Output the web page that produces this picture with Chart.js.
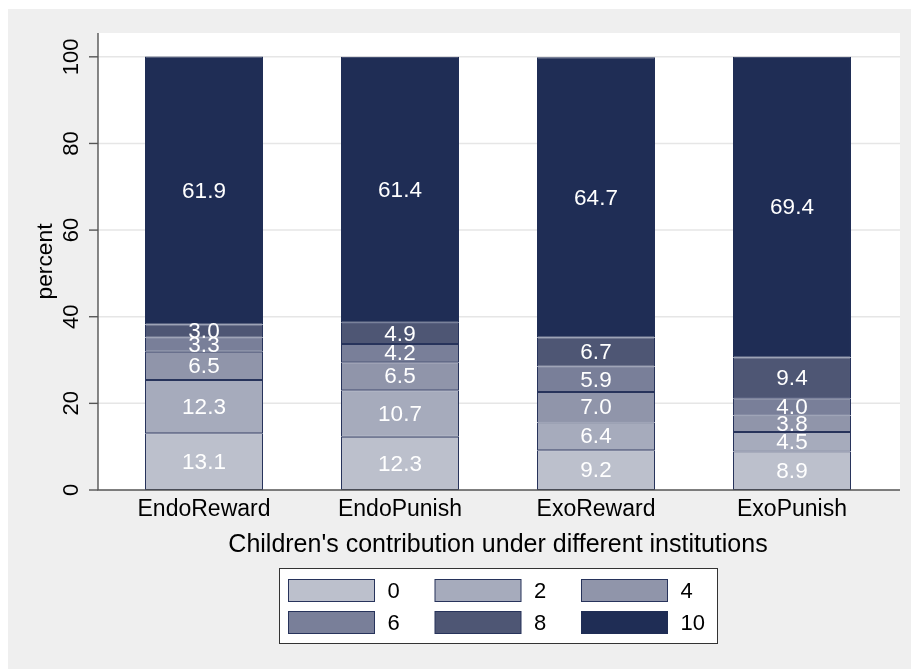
<!DOCTYPE html>
<html><head><meta charset="utf-8">
<script src="https://cdn.jsdelivr.net/npm/chart.js@4"></script>
<style>html,body{margin:0;padding:0;background:#fff;} canvas{display:block;}</style>
</head><body>
<canvas id="c" width="911" height="669"></canvas>
<script>
// ---- data ----
const categories = ['EndoReward', 'EndoPunish', 'ExoReward', 'ExoPunish'];
const seriesNames = ['0', '2', '4', '6', '8', '10'];
const s0  = [13.1, 12.3, 9.2, 8.9];
const s2  = [12.3, 10.7, 6.4, 4.5];
const s4  = [6.5, 6.5, 7.0, 3.8];
const s6  = [3.3, 4.2, 5.9, 4.0];
const s8  = [3.0, 4.9, 6.7, 9.4];
const s10 = [61.9, 61.4, 64.7, 69.4];
const yTicks = [0, 20, 40, 60, 80, 100];
const xTitle = "Children's contribution under different institutions";
const yTitle = 'percent';

// ---- styles ----
const seriesValues = [s0, s2, s4, s6, s8, s10];
const fills = ['#bcc0cc', '#a6abbc', '#9095aa', '#797f99', '#4e5674', '#1f2d55'];
const edge = '#27335b';
const FONT = "'Liberation Sans', Arial, Helvetica, sans-serif";
const PLOT_L = 98, PLOT_R = 900;

Chart.defaults.font.family = FONT;
Chart.defaults.color = '#000';

const datasets = seriesNames.map((n, i) => ({
  label: n,
  data: seriesValues[i],
  backgroundColor: fills[i],
  borderColor: i === 5 ? fills[i] : edge,
  borderWidth: 1,
  borderSkipped: false,
  categoryPercentage: 1.0,
  barPercentage: 0.602
}));

const deco = {
  id: 'deco',
  beforeDraw(chart) {
    const ctx = chart.ctx, y = chart.scales.y;
    ctx.save();
    ctx.fillStyle = '#fff';
    ctx.fillRect(0, 0, chart.width, chart.height);
    ctx.fillStyle = '#efefef';
    ctx.fillRect(8, 9, chart.width - 8, chart.height - 9);
    ctx.fillStyle = '#fff';
    ctx.fillRect(PLOT_L, y.top, PLOT_R - PLOT_L, y.bottom - y.top);
    ctx.strokeStyle = '#e6e6e6';
    ctx.lineWidth = 1.5;
    yTicks.forEach(v => {
      if (v === 0) return;
      const py = y.getPixelForValue(v);
      ctx.beginPath(); ctx.moveTo(PLOT_L, py); ctx.lineTo(PLOT_R, py); ctx.stroke();
    });
    ctx.restore();
  },
  afterDatasetsDraw(chart) {
    const ctx = chart.ctx, y = chart.scales.y;
    ctx.save();
    // value labels
    ctx.fillStyle = '#fff';
    ctx.font = '22.5px ' + FONT;
    ctx.textAlign = 'center';
    ctx.textBaseline = 'middle';
    chart.data.datasets.forEach((ds, di) => {
      const meta = chart.getDatasetMeta(di);
      meta.data.forEach((el, i) => {
        const v = ds.data[i];
        ctx.fillText(v.toFixed(1), el.x, (el.y + el.base) / 2 + 1);
      });
    });
    // axes
    ctx.strokeStyle = '#555';
    ctx.lineWidth = 1.4;
    ctx.beginPath();
    ctx.moveTo(PLOT_L, y.top); ctx.lineTo(PLOT_L, y.bottom); ctx.lineTo(PLOT_R, y.bottom);
    ctx.stroke();
    yTicks.forEach(v => {
      const py = y.getPixelForValue(v);
      ctx.beginPath(); ctx.moveTo(PLOT_L - 9, py); ctx.lineTo(PLOT_L, py); ctx.stroke();
    });
    ctx.restore();
  },
  afterDraw(chart) {
    const ctx = chart.ctx;
    ctx.save();
    // legend box
    ctx.fillStyle = '#fff';
    ctx.fillRect(279.5, 568.5, 438, 75);
    ctx.strokeStyle = '#333';
    ctx.lineWidth = 1;
    ctx.strokeRect(279.5, 568.5, 438, 75);
    ctx.font = '22px ' + FONT;
    ctx.textAlign = 'left';
    ctx.textBaseline = 'middle';
    chart.data.datasets.forEach((ds, i) => {
      const col = i % 3, row = Math.floor(i / 3);
      const x = 288.5 + col * 146.5, yy = 579.5 + row * 32;
      ctx.fillStyle = ds.backgroundColor;
      ctx.fillRect(x, yy, 86, 22);
      ctx.strokeStyle = ds.borderColor;
      ctx.strokeRect(x, yy, 86, 22);
      ctx.fillStyle = '#000';
      ctx.fillText(ds.label, x + 99, yy + 12);
    });
    ctx.restore();
  }
};

new Chart(document.getElementById('c'), {
  type: 'bar',
  data: { labels: categories, datasets },
  options: {
    responsive: false,
    animation: false,
    devicePixelRatio: 1,
    layout: { padding: { top: 33, right: 21, bottom: 105, left: 0 } },
    plugins: { legend: { display: false }, tooltip: { enabled: false } },
    scales: {
      x: {
        stacked: true,
        grid: { display: false, drawTicks: false },
        border: { display: false },
        ticks: { font: { size: 23 }, padding: 6, autoSkip: false, maxRotation: 0, color: '#000' },
        title: { display: true, text: xTitle, font: { size: 25 }, padding: { top: 0, bottom: 4 }, color: '#000' },
        afterFit(s) { s.height = 74; }
      },
      y: {
        stacked: true,
        min: 0, max: 105.5,
        grid: { display: false, drawTicks: false },
        border: { display: false },
        ticks: { stepSize: 20, includeBounds: false, minRotation: 90, maxRotation: 90, crossAlign: 'center', padding: 16, font: { size: 22 }, color: '#000' },
        title: { display: true, text: yTitle, font: { size: 22.8 }, padding: { top: 32, bottom: 0 }, color: '#000' },
        afterFit(s) { s.width = 106; }
      }
    }
  },
  plugins: [deco]
});
</script>
</body></html>
